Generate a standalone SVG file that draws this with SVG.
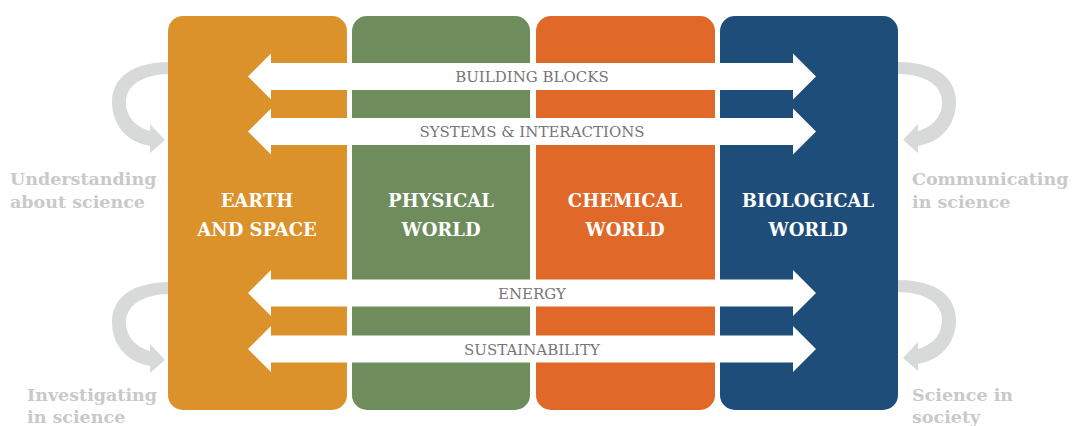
<svg xmlns="http://www.w3.org/2000/svg" width="1072" height="426" viewBox="0 0 1072 426">
<defs>
<style>
.head{font-family:"DejaVu Serif","Liberation Serif",serif;font-weight:bold;font-size:18px;fill:#ffffff;text-anchor:middle}
.band{font-family:"DejaVu Serif","Liberation Serif",serif;font-size:15px;fill:#767676;text-anchor:middle}
.side{font-family:"DejaVu Serif","Liberation Serif",serif;font-weight:bold;font-size:17.5px;fill:#c9c9c9}
.rib{fill:#d8d9d9}
.arr{fill:#ffffff}
</style>
<path id="curl" d="M 170 62 L 170 74 C 142 74 126 86 126 102 C 126 117 136 127 150 131 L 150 124 L 165 140 L 150 153 L 150 146 C 126 142 112 124 112 102 C 112 78 132 62 170 62 Z"/>
<path id="dbl" d="M 248 0 L 271 -23 L 271 -13.5 L 793 -13.5 L 793 -23 L 816 0 L 793 23 L 793 13.5 L 271 13.5 L 271 23 Z"/>
</defs>
<g id="curls">
<use href="#curl" class="rib"/>
<use href="#curl" class="rib" transform="translate(0,220)"/>
<use href="#curl" class="rib" transform="translate(1068,0) scale(-1,1)"/>
<use href="#curl" class="rib" transform="translate(1068,218) scale(-1,1)"/>
</g>
<g id="earth"><rect x="168" y="16" width="179" height="394" rx="15" fill="#DB922B"/></g>
<g id="physical"><rect x="352" y="16" width="178" height="394" rx="15" fill="#6E8C5C"/></g>
<g id="chemical"><rect x="536" y="16" width="179" height="394" rx="15" fill="#E06828"/></g>
<g id="biological"><rect x="720" y="16" width="178" height="394" rx="15" fill="#1E4D7A"/></g>
<g id="connectors">
<use href="#dbl" class="arr" transform="translate(0,76.5)"/>
<use href="#dbl" class="arr" transform="translate(0,131.5)"/>
<use href="#dbl" class="arr" transform="translate(0,293)"/>
<use href="#dbl" class="arr" transform="translate(0,349)"/>
</g>
<g id="band-labels">
<text class="band" x="532" y="82">BUILDING BLOCKS</text>
<text class="band" x="532" y="137">SYSTEMS &amp; INTERACTIONS</text>
<text class="band" x="532" y="299">ENERGY</text>
<text class="band" x="532" y="355">SUSTAINABILITY</text>
</g>
<g id="column-labels">
<text class="head" x="257" y="207">EARTH</text>
<text class="head" x="257" y="236">AND SPACE</text>
<text class="head" x="441" y="207">PHYSICAL</text>
<text class="head" x="441" y="236">WORLD</text>
<text class="head" x="625" y="207">CHEMICAL</text>
<text class="head" x="625" y="236">WORLD</text>
<text class="head" x="808" y="207">BIOLOGICAL</text>
<text class="head" x="808" y="236">WORLD</text>
</g>
<g id="side-labels">
<text class="side" x="10" y="185">Understanding</text>
<text class="side" x="10" y="208">about science</text>
<text class="side" x="912" y="185">Communicating</text>
<text class="side" x="912" y="208">in science</text>
<text class="side" x="27" y="401">Investigating</text>
<text class="side" x="27" y="423">in science</text>
<text class="side" x="912" y="401">Science in</text>
<text class="side" x="912" y="423">society</text>
</g>
</svg>
